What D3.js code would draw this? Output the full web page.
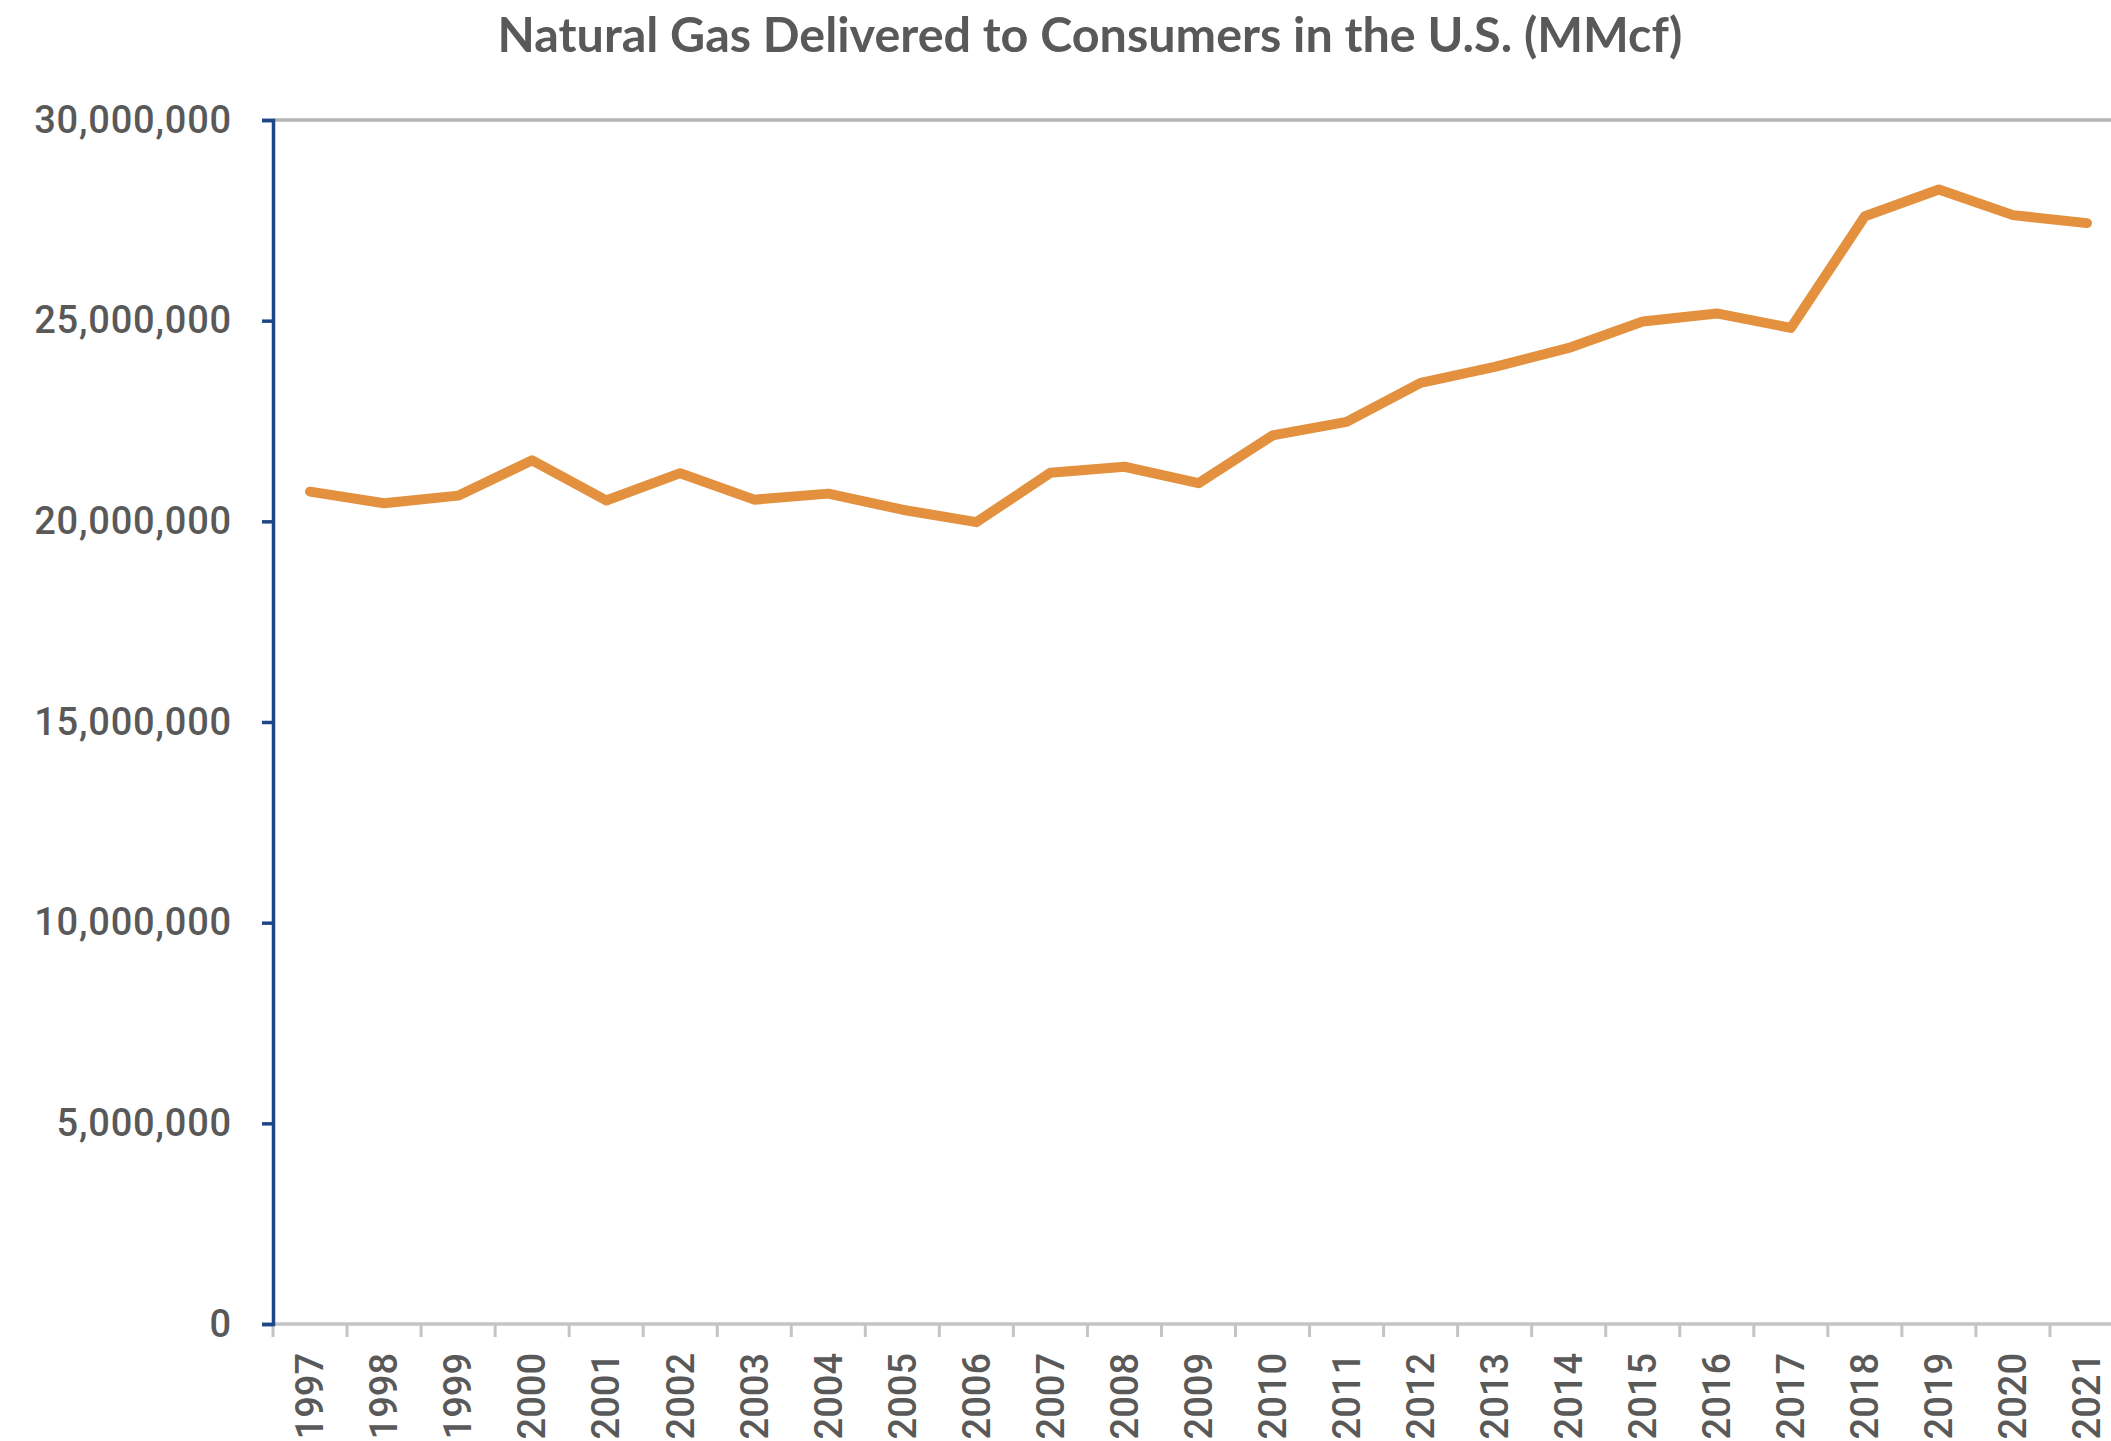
<!DOCTYPE html>
<html>

<head>
    <script src="https://d3js.org/d3.v7.min.js"></script>
    <style>
        body {
            margin: 0;
            background: white;
        }

        svg {
            display: block;
            overflow: hidden;
        }
    </style>
</head>

<body>
    <div id="chart"></div>

    <script>
        // values (MMcf)
        var years = ["1997", "1998", "1999", "2000", "2001", "2002", "2003", "2004", "2005", "2006", "2007", "2008",
            "2009", "2010", "2011", "2012", "2013", "2014", "2015", "2016", "2017", "2018", "2019", "2020", "2021"];
        var delivered = [20740000, 20450000, 20640000, 21520000, 20520000, 21200000, 20540000, 20690000, 20290000,
            19980000, 21210000, 21360000, 20950000, 22140000, 22480000, 23450000, 23850000, 24320000, 24980000,
            25180000, 24820000, 27600000, 28270000, 27630000, 27430000];
        var yTicks = [0, 5000000, 10000000, 15000000, 20000000, 25000000, 30000000];
        var title = "Natural Gas Delivered to Consumers in the U.S. (MMcf)";

        var W = 2111, H = 1441;
        var plotLeft = 273, plotTop = 120, plotBottom = 1324;
        var band = 74.04;

        var svg = d3.select("#chart")
            .append("svg")
            .attr("width", W)
            .attr("height", H);

        var xs = d3.scaleBand().domain(years).range([plotLeft, plotLeft + band * years.length]).padding(0);
        var ys = d3.scaleLinear().domain([0, 30000000]).range([plotBottom, plotTop]);

        var textColor = "#595959";
        var labelFont = "Roboto, 'Liberation Sans', Arial, sans-serif";

        // title, sized to match the original width
        var t = svg.append("text")
            .attr("x", 1090)
            .attr("y", 52)
            .attr("text-anchor", "middle")
            .style("font-family", "Lato, 'Open Sans', sans-serif")
            .style("font-weight", "700")
            .style("font-size", "50px")
            .style("fill", textColor)
            .text(title);
        var tw = t.node().getComputedTextLength();
        t.style("font-size", (50 * 1185 / tw) + "px");

        // top gridline at max
        svg.append("line")
            .attr("x1", plotLeft).attr("x2", W)
            .attr("y1", ys(30000000)).attr("y2", ys(30000000))
            .attr("stroke", "#b3b3b3")
            .attr("stroke-width", 3.5);

        // x axis (gray) with tick marks between categories
        var xAxis = d3.axisBottom(xs).tickSize(0).tickPadding(29);
        var gx = svg.append("g")
            .attr("transform", "translate(0," + plotBottom + ")")
            .call(xAxis);
        gx.select(".domain").remove();
        gx.selectAll("text")
            .attr("transform", "rotate(-90)")
            .attr("y", 0)
            .attr("x", -29)
            .attr("dy", "0.35em")
            .style("text-anchor", "end")
            .style("font-family", labelFont)
            .style("font-weight", "500")
            .style("font-size", "38px")
            .style("fill", textColor);

        svg.append("line")
            .attr("x1", plotLeft).attr("x2", W)
            .attr("y1", plotBottom).attr("y2", plotBottom)
            .attr("stroke", "#c4c4c4")
            .attr("stroke-width", 3.5);

        svg.append("g")
            .selectAll("line")
            .data(years)
            .enter()
            .append("line")
            .attr("x1", d => xs(d))
            .attr("x2", d => xs(d))
            .attr("y1", plotBottom)
            .attr("y2", plotBottom + 13)
            .attr("stroke", "#c4c4c4")
            .attr("stroke-width", 3);

        // y axis (dark blue)
        var yAxis = d3.axisLeft(ys).tickValues(yTicks).tickSize(11).tickPadding(30)
            .tickFormat(d3.format(","));
        var gy = svg.append("g")
            .attr("transform", "translate(" + plotLeft + ",0)")
            .call(yAxis);
        gy.select(".domain")
            .attr("stroke", "#1f4788")
            .attr("stroke-width", 3.5);
        gy.selectAll(".tick line")
            .attr("stroke", "#1f4788")
            .attr("stroke-width", 3.5);
        gy.selectAll("text")
            .style("font-family", labelFont)
            .style("font-weight", "500")
            .style("font-size", "38px")
            .style("letter-spacing", "0.8px")
            .style("fill", textColor);

        // the line
        var line = d3.line()
            .x((d, i) => xs(years[i]) + xs.bandwidth() / 2)
            .y(d => ys(d));

        svg.append("path")
            .datum(delivered)
            .attr("d", line)
            .attr("fill", "none")
            .attr("stroke", "#e3913f")
            .attr("stroke-width", 10)
            .attr("stroke-linejoin", "round")
            .attr("stroke-linecap", "round");
    </script>
</body>

</html>
